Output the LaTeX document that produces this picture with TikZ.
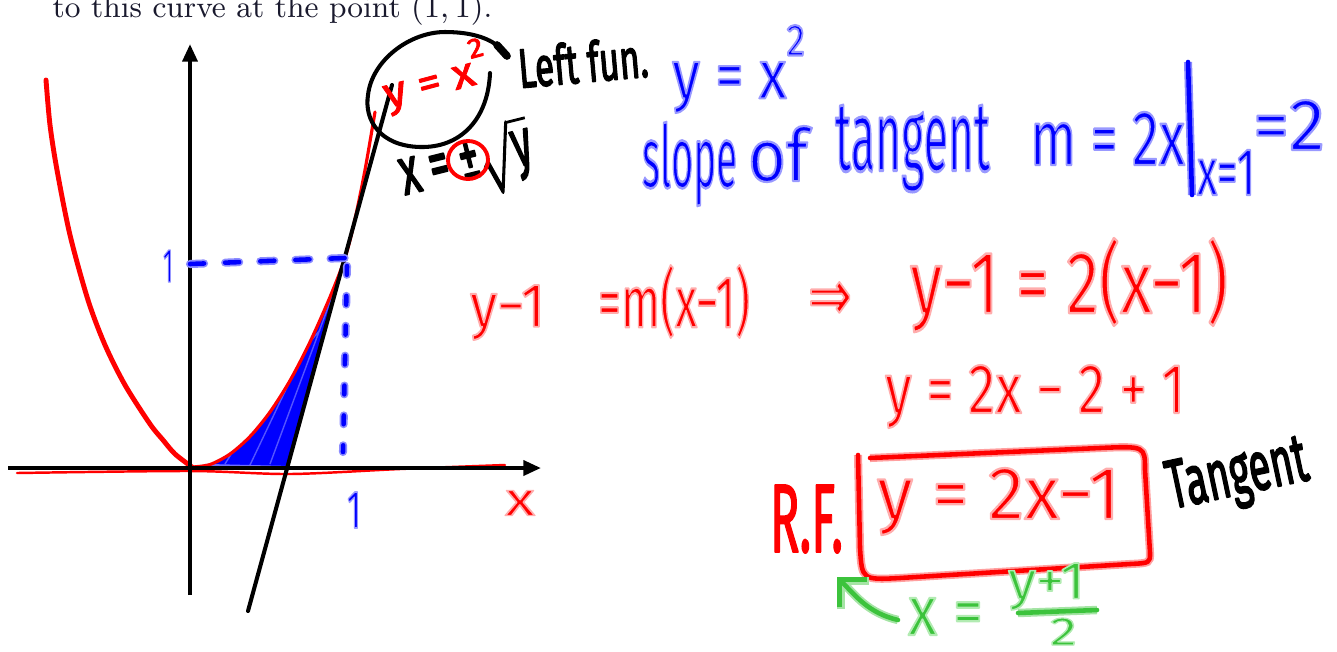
\documentclass[tikz,border=0pt]{standalone}
\usepackage{fontspec}
\usepackage{graphicx}
\newfontfamily\hand{Fira Sans}
\newfontfamily\symf{DejaVu Sans}
\usetikzlibrary{arrows.meta}
\definecolor{penred}{RGB}{255,0,0}
\definecolor{penblue}{RGB}{0,0,255}
\definecolor{pengreen}{RGB}{60,195,60}
\definecolor{halored}{RGB}{255,160,160}
\definecolor{haloblue}{RGB}{140,140,255}
\definecolor{halogreen}{RGB}{165,228,165}
\definecolor{texdark}{RGB}{25,25,45}
\newlength\pxu
\setlength\pxu{0.01cm}
\newcommand\fitbox[3]{\resizebox*{#1\pxu}{#2\pxu}{#3}}
\newcommand\upidx[1]{\raisebox{0.62em}{\fontsize{13}{13}\selectfont #1}}
% outline the glyphs with a pale rim (fill + stroke text render mode)
\newcommand\rim[3]{\special{pdf:literal direct #1 RG 1 j #2 w 2 Tr}#3\special{pdf:literal direct 0 Tr}}
\newcommand\rimred[1]{\rim{1 0.68 0.68}{0.6}{#1}}
\newcommand\rimblue[1]{\rim{0.6 0.6 1}{0.6}{#1}}
\newcommand\rimgreen[1]{\rim{0.7 0.92 0.7}{0.6}{#1}}
\newcommand\rimblack[1]{\rim{0 0 0}{0.6}{#1}}
\begin{document}
\begin{tikzpicture}[x=0.01cm,y=-0.01cm,
  hand/.style={font=\fontsize{20}{24}\hand, inner sep=0pt, outer sep=0pt},
  bluetext/.style={hand, text=penblue},
  redtext/.style={hand, text=penred},
  greentext/.style={hand, text=pengreen},
  blacktext/.style={hand, text=black},
  axis/.style={draw=black, line width=1.15pt},
  blackpen/.style={draw=black, line width=1.15pt, line cap=round, line join=round},
  redpen/.style={draw=penred, line width=1.3pt, line cap=round, line join=round, preaction={draw=halored, line width=2.3pt}},
  bluepen/.style={draw=penblue, line width=1.3pt, line cap=round, line join=round, preaction={draw=haloblue, line width=2.3pt}},
  bluedashA/.style={draw=penblue, line width=1.3pt, line cap=round, dash pattern=on 4pt off 6pt, preaction={draw=haloblue, line width=2.3pt, line cap=round, dash pattern=on 4pt off 6pt}},
  bluedashB/.style={draw=penblue, line width=1.3pt, line cap=round, dash pattern=on 2.5pt off 6pt, preaction={draw=haloblue, line width=2.3pt, line cap=round, dash pattern=on 2.5pt off 6pt}},
  greenpen/.style={draw=pengreen, line width=1.3pt, line cap=round, line join=round, preaction={draw=halogreen, line width=2.4pt}},
  curve/.style={draw=penred, line width=1.2pt, line cap=round, line join=round},
]
\useasboundingbox (0,0) rectangle (1337,651);

% top line of the page
\node[anchor=base west, inner sep=0pt, text=texdark, font=\fontsize{8.7}{10}\selectfont] (head) at (52,17) {to this curve at the point $(1,1)$.};

% coordinates of the plot
\coordinate (O) at (190,468);
\coordinate (xl) at (8,468);
\coordinate (xr) at (541,468);
\coordinate (yb) at (190,595);
\coordinate (yt) at (190,44);
\coordinate (P) at (345,258);
\coordinate (tb) at (248,611);
\coordinate (tt) at (392,85);
\coordinate (X0) at (287,468);

% shaded region
\begin{scope}
\clip (192,467) -- plot[smooth] coordinates {(192,467) (210,464.5) (230,454) (250,436.5) (270,412) (290,380.6) (310,342) (330,297) (344,260)} -- (X0) -- cycle;
\fill[penblue] (150,200) rectangle (400,480);
\draw[haloblue, line width=0.4pt, opacity=0.6] (225,464) -- (336,285) (250,465) -- (338,280) (270,464) -- (340,275) (205,466) -- (320,330);
\end{scope}
\draw[haloblue, line width=1.2pt, opacity=0.8] (205,466) -- (X0);

% parabola
\draw[curve, line width=1.4pt] plot[smooth] coordinates {(46,80) (50,125) (57,170) (70,235) (88,300) (105,345) (125,385) (150,424) (163,440) (175,454) (192,467)};
\draw[curve, line width=0.9pt] plot[smooth] coordinates {(192,467) (210,464.5) (230,454) (250,436.5) (270,412) (290,380.6) (310,342) (330,297) (345,258) (355,219) (365,170) (375,112)};
\draw[curve, line width=0.7pt] plot[smooth] coordinates {(17,473) (190,471) (290,474) (400,469) (505,465)};

% axes
\draw[axis, -{Triangle[length=5pt,width=4.2pt]}] (xl) -- (xr);
\draw[axis, -{Triangle[length=5pt,width=4.2pt]}] (yb) -- (yt);

% tangent line
\draw[blackpen] (tb) -- (tt);

% dashed guides
\draw[bluedashA] (190,264) -- (P);
\draw[bluedashB] (347,266) -- (343,452);

\node[bluetext] (oney) at (168,266) {\fitbox{10}{32}{\rimblue{1}}};
\node[bluetext] (onex) at (354,510) {\fitbox{14}{36}{\rimblue{1}}};
\node[redtext] (xlab) at (520,503) {\fitbox{30}{25}{\rimred{x}}};

% circled left function
\draw[blackpen] (490,73) .. controls (488,120) and (460,148) .. (420,147) .. controls (380,146) and (364,120) .. (368,95) .. controls (372,60) and (410,32) .. (445,32) .. controls (475,32) and (492,40) .. (500,48);
\draw[blackpen, line width=2.2pt] (497,45) -- (507,56);
\node[redtext, rotate=15] (lf) at (435,77) {\fitbox{108}{54}{\rim{1 0 0}{0.4}{y = x\upidx{2}}}};
\node[blacktext, rotate=5] (leftfun) at (583,62) {\fitbox{130}{42}{\rimblack{Left fun.}}};
\node[blacktext, rotate=14] (inv) at (467,165) {\fitbox{135}{72}{\rimblack{x = ±\ensuremath{\sqrt{\hbox{y}}}}}};
\draw[penred, line width=1.1pt] (468,160) ellipse [x radius=20, y radius=19];

% blue notes
\node[bluetext, anchor=north west] (b1) at (672,25) {\fitbox{133}{88}{\rimblue{y = x\upidx{2}}}};
\node[bluetext, anchor=north west] (b2) at (642,122) {\fitbox{95}{84}{\rimblue{slope}}};
\node[bluetext, anchor=north west] (b2b) at (748,126) {\fitbox{60}{56}{\rimblue{of}}};
\node[bluetext, anchor=north west] (b3) at (835,105) {\fitbox{155}{87}{\rimblue{tangent}}};
\node[bluetext, anchor=north west] (b4) at (1030,112) {\fitbox{155}{53}{\rimblue{m = 2x}}};
\draw[bluepen] (1188,62) -- (1192,195);
\node[bluetext, anchor=north west] (b5) at (1197,150) {\fitbox{58}{45}{\rimblue{x=1}}};
\node[bluetext, anchor=north west] (b6) at (1253,100) {\fitbox{72}{50}{\rimblue{=2}}};

% red working
\node[redtext, anchor=north west] (r1) at (470,285) {\fitbox{75}{55}{\rimred{y−1}}};
\node[redtext, anchor=north west] (r2) at (598,265) {\fitbox{152}{73}{\rimred{=m(x−1)}}};
\node[redtext, anchor=north west] (r3) at (808,282) {\fitbox{44}{38}{\rimred{\symf ⇒}}};
\node[redtext, anchor=north west] (r4) at (910,238) {\fitbox{318}{94}{\rimred{y−1 = 2(x−1)}}};
\node[redtext, anchor=north west] (r5) at (885,365) {\fitbox{300}{63}{\rimred{y = 2x − 2 + 1}}};
\node[redtext, anchor=north west] (rf) at (770,485) {\fitbox{73}{68}{\rim{1 0 0}{0.4}{R.F.}}};
\node[redtext, anchor=north west] (ans) at (877,468) {\fitbox{243}{67}{\rimred{y = 2x−1}}};
\draw[redpen] (870,458) -- (1100,448) .. controls (1145,446) .. (1145,470) -- (1150,553) .. controls (1150,563) .. (1130,564) -- (900,578) .. controls (862,580) .. (860,548) -- (858,455);
\node[blacktext, rotate=12] (tan) at (1238,478) {\fitbox{142}{62}{\rimblack{Tangent}}};

% green inverse
\node[greentext, anchor=north west] (gx) at (908,598) {\fitbox{75}{37}{\rimgreen{x =}}};
\node[greentext, anchor=north west] (gnum) at (1008,563) {\fitbox{77}{47}{\rimgreen{y+1}}};
\node[greentext, anchor=north west] (gden) at (1050,618) {\fitbox{27}{27}{\rimgreen{2}}};
\draw[greenpen] (1018,613) -- (1097,610);
\coordinate (gtail) at (898,620);
\coordinate (gtip) at (837,577);
\draw[greenpen, -{Straight Barb[angle=90:8pt]}] (gtail) .. controls (868,613) and (855,595) .. (gtip);
\end{tikzpicture}
\end{document}
